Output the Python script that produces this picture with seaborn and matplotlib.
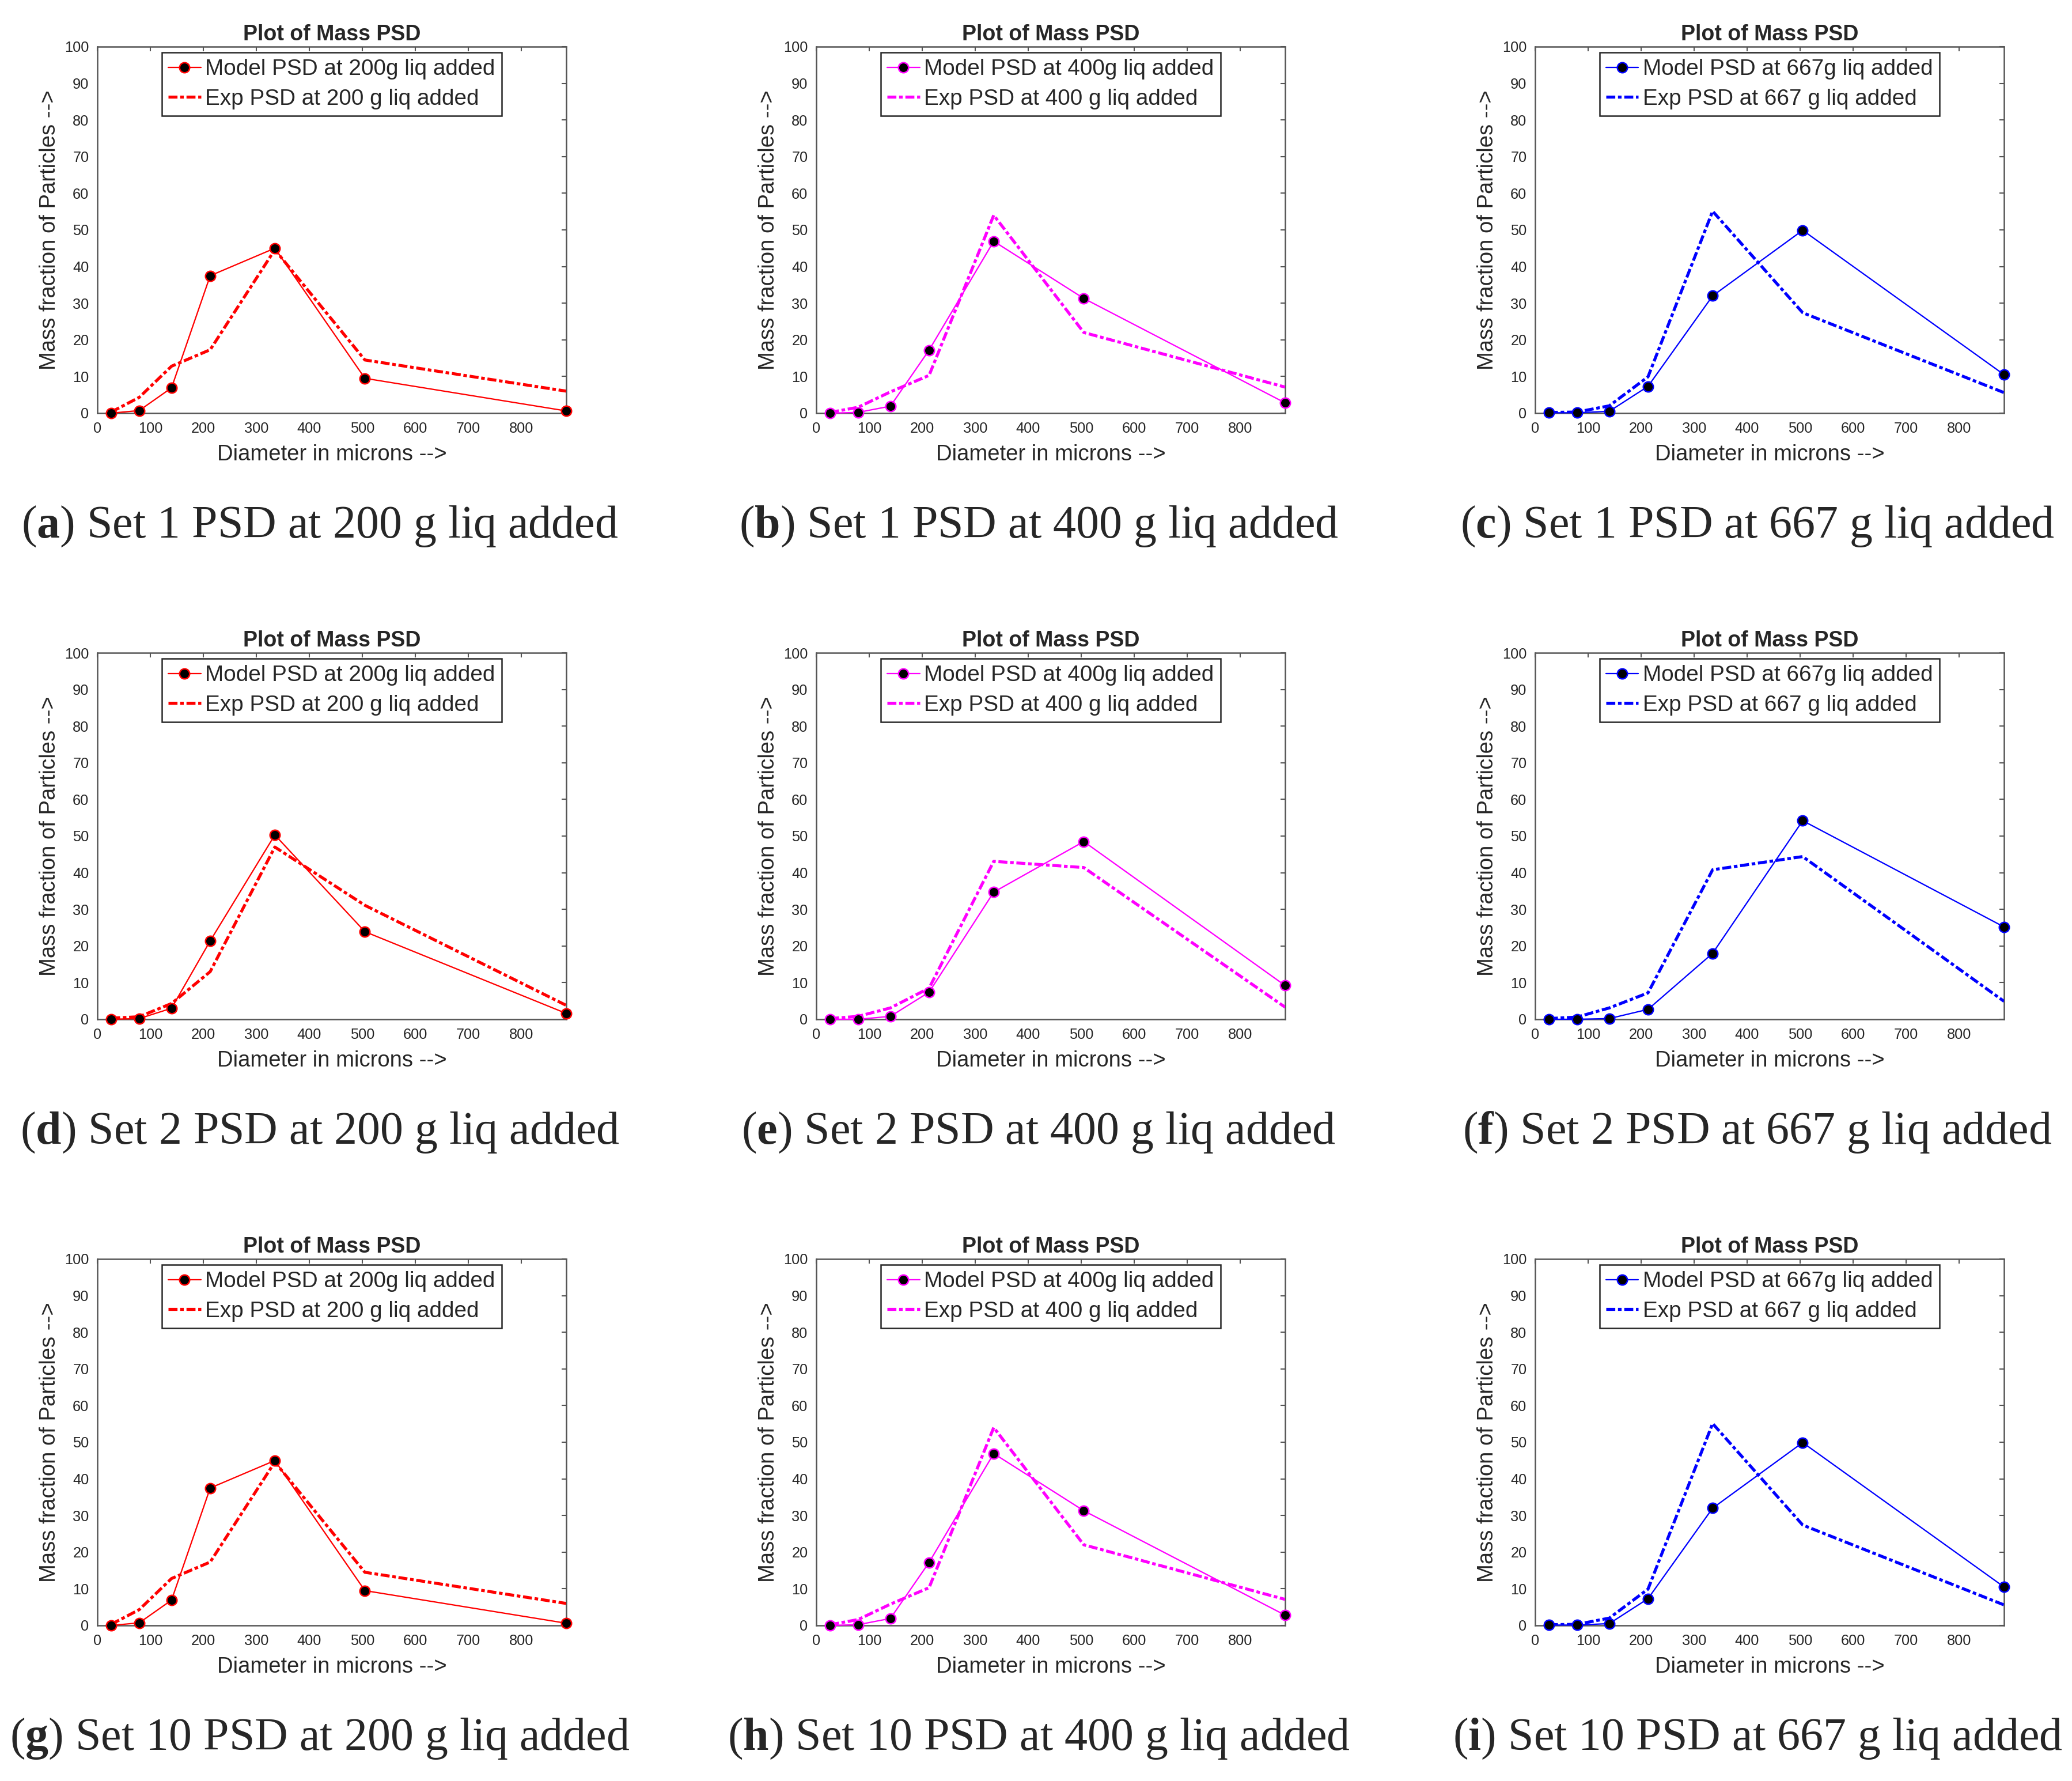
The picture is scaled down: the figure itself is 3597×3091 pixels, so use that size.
# Mass PSD grid: model vs experimental for sets 1, 2, 10 at three liquid additions

import pandas as pd
import matplotlib
matplotlib.use("Agg")
import matplotlib.pyplot as plt
import seaborn as sns

# ============ DATA ============
diameter = [26, 79, 140, 213, 335, 505, 885]

set1_200_model = [0.0, 0.7, 6.9, 37.5, 45.0, 9.5, 0.6]
set1_200_exp = [0.3, 4.3, 12.8, 17.3, 44.6, 14.5, 6.0]
set1_400_model = [0.0, 0.2, 1.9, 17.2, 46.9, 31.3, 2.8]
set1_400_exp = [0.2, 1.6, 5.8, 10.3, 54.0, 22.0, 7.1]
set1_667_model = [0.1, 0.1, 0.5, 7.3, 32.0, 49.9, 10.5]
set1_667_exp = [0.2, 0.3, 2.0, 9.9, 55.1, 27.4, 5.6]

set2_200_model = [0.0, 0.2, 3.0, 21.4, 50.3, 23.9, 1.6]
set2_200_exp = [0.3, 0.7, 4.3, 13.0, 47.0, 31.1, 3.8]
set2_400_model = [0.0, 0.0, 0.8, 7.4, 34.7, 48.5, 9.2]
set2_400_exp = [0.2, 0.8, 3.1, 8.5, 43.1, 41.4, 3.3]
set2_667_model = [0.0, 0.0, 0.2, 2.7, 18.0, 54.2, 25.2]
set2_667_exp = [0.2, 0.6, 3.1, 7.2, 40.8, 44.4, 4.9]

set10_200_model = [0.0, 0.7, 6.9, 37.5, 45.0, 9.5, 0.6]
set10_200_exp = [0.3, 4.3, 12.8, 17.3, 44.6, 14.5, 6.0]
set10_400_model = [0.0, 0.2, 1.9, 17.2, 46.9, 31.3, 2.8]
set10_400_exp = [0.2, 1.6, 5.8, 10.3, 54.0, 22.0, 7.1]
set10_667_model = [0.1, 0.1, 0.5, 7.3, 32.0, 49.9, 10.5]
set10_667_exp = [0.2, 0.3, 2.0, 9.9, 55.1, 27.4, 5.6]

sets = ["1", "2", "10"]
liquid = ["200", "400", "667"]
letters = ["a", "b", "c", "d", "e", "f", "g", "h", "i"]
colors = {"200": "#FF0000", "400": "#FF00FF", "667": "#0000FF"}

model_data = [[set1_200_model, set1_400_model, set1_667_model],
              [set2_200_model, set2_400_model, set2_667_model],
              [set10_200_model, set10_400_model, set10_667_model]]
exp_data = [[set1_200_exp, set1_400_exp, set1_667_exp],
            [set2_200_exp, set2_400_exp, set2_667_exp],
            [set10_200_exp, set10_400_exp, set10_667_exp]]
# =====================================================

sns.set_style("white")
plt.rcParams["font.family"] = ["Liberation Sans", "DejaVu Sans"]
plt.rcParams["mathtext.fontset"] = "custom"
plt.rcParams["mathtext.rm"] = "Liberation Serif"
plt.rcParams["mathtext.bf"] = "Liberation Serif:bold"

W, H = 3597, 3091
DPI = 300
fig = plt.figure(figsize=(W / DPI, H / DPI), dpi=DPI)

col_left = [169, 1417, 2665]
row_top = [81, 1133, 2185]
ax_w, ax_h = 814, 636
caption_base = [933, 1985, 3037]

for r in range(3):
    for c in range(3):
        left, top = col_left[c], row_top[r]
        ax = fig.add_axes([left / W, 1 - (top + ax_h) / H, ax_w / W, ax_h / H])
        liq = liquid[c]
        col = colors[liq]

        df = pd.DataFrame({"diameter": diameter,
                           "model": model_data[r][c],
                           "exp": exp_data[r][c]})

        sns.lineplot(data=df, x="diameter", y="model", ax=ax, color=col,
                     linewidth=0.55, marker="o", markersize=4.2,
                     markerfacecolor="black", markeredgecolor=col,
                     markeredgewidth=0.6, errorbar=None, sort=False,
                     clip_on=False, zorder=4,
                     label=f"Model PSD at {liq}g liq added")
        sns.lineplot(data=df, x="diameter", y="exp", ax=ax, color=col,
                     linewidth=1.25, linestyle=(0, (3, 0.9, 1.2, 0.9)),
                     errorbar=None, sort=False, zorder=3,
                     label=f"Exp PSD at {liq} g liq added")

        ax.set_xlim(0, diameter[-1])
        ax.set_ylim(0, 100)
        ax.set_xticks(range(0, 900, 100))
        ax.set_yticks(range(0, 101, 10))
        ax.tick_params(direction="in", top=True, right=True, length=1.9,
                       width=0.5, color="#555555", labelsize=6.1,
                       labelcolor="#262626", pad=3.5)
        for s in ax.spines.values():
            s.set_color("#555555")
            s.set_linewidth(0.6)

        ax.set_title("Plot of Mass PSD", fontsize=9, fontweight="bold", pad=2.6)
        ax.set_xlabel("Diameter in microns -->", fontsize=9.2,
                      color="#262626", labelpad=3.8)
        ax.set_ylabel("Mass fraction of Particles -->", fontsize=9.2,
                      color="#262626", labelpad=2.0)

        leg = ax.legend(loc="upper center", fontsize=9.3, frameon=True,
                        fancybox=False, framealpha=1, edgecolor="#262626",
                        borderpad=0.3, labelspacing=0.4, handlelength=1.45,
                        handletextpad=0.2, borderaxespad=0.25)
        leg.get_frame().set_linewidth(0.6)

        idx = r * 3 + c
        cx = (left + ax_w / 2 - 21) / W
        fig.text(cx, 1 - caption_base[r] / H,
                 rf"($\mathbf{{{letters[idx]}}}$) Set {sets[r]} PSD at {liq} g liq added",
                 ha="center", va="baseline", fontsize=19.2,
                 family=["Liberation Serif", "DejaVu Serif"])

fig.savefig("out.png", dpi=DPI)
